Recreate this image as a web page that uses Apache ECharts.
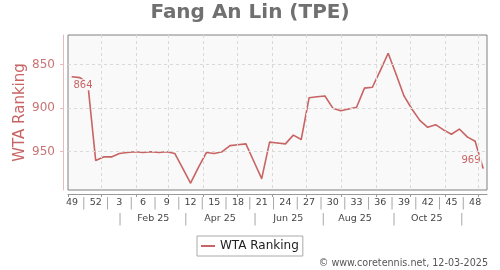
<!DOCTYPE html>
<html><head><meta charset="utf-8">
<script src="https://cdn.jsdelivr.net/npm/echarts@6/dist/echarts.min.js"></script>
<style>html,body{margin:0;padding:0;background:#fff}#c{width:500px;height:270px}</style>
</head><body><div id="c"></div>
<script>
// Weekly WTA ranking, week 49/2024 .. week 49/2025 (index 0..52)
const ranks = [864, 865, 871, 960, 956, 956, 952, 951, 950, 951, 950, 951, 950, 952, 969, 986, 968, 951, 952, 950,
  943, 942, 941, 961, 981, 939, 940, 941, 931, 936, 888, 887, 886, 900, 903, 901, 899, 877, 876, 857,
  837, 861, 886, 901, 914, 922, 919, 925, 930, 924, 933, 938, 969];
const weekTickLabels = ['49','52','3','6','9','12','15','18','21','24','27','30','33','36','39','42','45','48'];
const weekTickPos = [0,3,6,9,12,15,18,21,24,27,30,33,36,39,42,45,48,51];
const weekSepPos = [1.5,4.5,7.5,10.5,13.5,16.5,19.5,22.5,25.5,28.5,31.5,34.5,37.5,40.5,43.5,46.5,49.5];
const monthLabels = ['Feb 25','Apr 25','Jun 25','Aug 25','Oct 25'];
const monthLabelPos = [10.29, 18.73, 27.36, 35.8, 44.87];
const monthSepPos = [6.08, 14.39, 23.15, 31.79, 40.73, 49.3];
const monthGridPos = [3.73, 8.16, 12.16, 16.59, 20.87, 25.3, 29.59, 34.01, 38.44, 42.73, 47.16, 51.44];
const yTicks = [850, 900, 950];
const seriesName = 'WTA Ranking';
const titleText = 'Fang An Lin (TPE)';
const footerText = '\u00a9 www.coretennis.net, 12-03-2025';

const FONT = 'DejaVu Sans';
const RED = '#c86464';
const chart = echarts.init(document.getElementById('c'), null, {renderer: 'canvas'});

const lineData = ranks.map((v, i) => {
  const item = {value: [i, v]};
  if (i === 0) {
    item.label = {show: true, position: [1, 3], align: 'left', verticalAlign: 'top'};
  } else if (i === ranks.length - 1) {
    item.label = {show: true, position: [-1, -2], align: 'right', verticalAlign: 'bottom'};
  }
  return item;
});

const weekLabelMap = {};
weekTickPos.forEach((p, k) => { weekLabelMap[p] = weekTickLabels[k]; });
const monthLabelMap = {};
monthLabelPos.forEach((p, k) => { monthLabelMap[p] = monthLabels[k]; });

chart.setOption({
  animation: false,
  backgroundColor: '#fff',
  textStyle: {fontFamily: FONT},
  title: {
    text: titleText, left: 'center', top: 3, padding: 0,
    textStyle: {fontSize: 20, fontWeight: 'bold', color: '#707070', fontFamily: FONT}
  },
  grid: {
    left: 68, top: 35, width: 419, height: 155,
    show: true, backgroundColor: '#f9f9f9', borderColor: '#808080', borderWidth: 1
  },
  legend: {
    data: [{name: seriesName, icon: 'rect'}],
    left: 197, top: 236, padding: [4, 4, 4, 4],
    itemWidth: 14, itemHeight: 2, itemGap: 5,
    borderColor: '#aaa', borderWidth: 1, borderRadius: 0,
    textStyle: {fontSize: 12, color: '#222', fontFamily: FONT},
    selectedMode: false
  },
  graphic: [{
    type: 'text', right: 12, bottom: 2,
    style: {text: footerText, fontSize: 9.6, fill: '#555', fontFamily: FONT}
  }],
  xAxis: [{
    type: 'value', min: -0.5, max: 52.5, position: 'bottom', offset: 4,
    axisLine: {show: true, onZero: false, lineStyle: {color: '#999', width: 1}},
    axisTick: {show: true, customValues: [-0.5].concat(monthGridPos), length: 3, inside: false, lineStyle: {color: '#999'}},
    splitLine: {show: false},
    axisLabel: {
      customValues: weekTickPos.concat(weekSepPos), margin: 4,
      fontSize: 9.5, color: '#444', fontFamily: FONT,
      formatter: v => weekLabelMap[v] !== undefined ? weekLabelMap[v] : '{s||}',
      rich: {s: {fontSize: 12, color: '#aaa', fontFamily: FONT}}
    }
  }, {
    type: 'value', min: -0.5, max: 52.5, position: 'bottom', offset: 20,
    axisLine: {show: false, onZero: false}, axisTick: {show: false}, splitLine: {show: false},
    axisLabel: {
      customValues: monthLabelPos.concat(monthSepPos), margin: 4,
      fontSize: 9.5, color: '#444', fontFamily: FONT,
      formatter: v => monthLabelMap[v] !== undefined ? monthLabelMap[v] : '{s||}',
      rich: {s: {fontSize: 12, color: '#aaa', fontFamily: FONT}}
    }
  }],
  yAxis: {
    type: 'value', inverse: true, min: 816, max: 994, position: 'left', offset: 5,
    name: seriesName, nameLocation: 'middle', nameGap: 35, nameMoveOverlap: false,
    nameTextStyle: {fontSize: 15, color: RED, fontFamily: FONT},
    axisLine: {show: true, onZero: false, lineStyle: {color: '#e6bcbc', width: 1}},
    axisTick: {show: true, customValues: yTicks, length: 3, lineStyle: {color: '#e6bcbc'}},
    splitLine: {show: false},
    axisLabel: {customValues: yTicks, margin: 8, fontSize: 12, color: '#c87474', fontFamily: FONT}
  },
  series: [{
    type: 'line', name: '_grid', data: [], z: 1, silent: true,
    markLine: {
      silent: true, symbol: 'none', animation: false,
      label: {show: false},
      lineStyle: {color: '#d9d9d9', type: [3, 3], width: 1},
      emphasis: {disabled: true},
      data: monthGridPos.map(v => ({xAxis: v})).concat(yTicks.map(v => ({yAxis: v})))
    }
  }, {
    type: 'line', name: seriesName, z: 3, data: lineData,
    symbol: 'circle', symbolSize: 1, showSymbol: true,
    itemStyle: {color: RED},
    lineStyle: {color: RED, width: 1.6},
    emphasis: {disabled: true},
    label: {
      show: false, fontSize: 10, color: RED, opacity: 1, fontFamily: FONT,
      backgroundColor: '#f9f9f9', padding: [1, 1, 0, 1],
      formatter: p => String(p.value[1])
    }
  }]
});
</script></body></html>
